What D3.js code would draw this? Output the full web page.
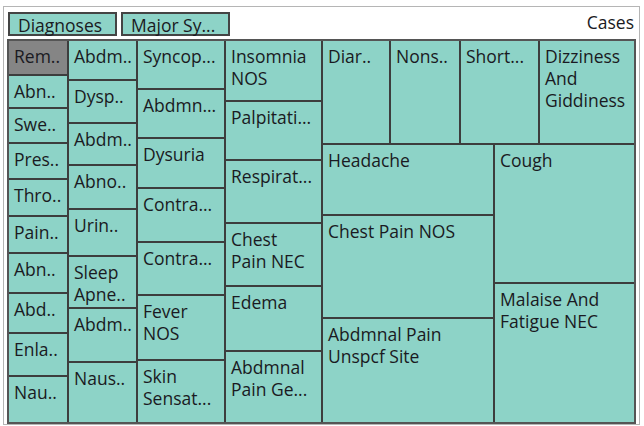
<!DOCTYPE html>
<html><head><meta charset="utf-8">
<script src="https://cdn.jsdelivr.net/npm/d3@7"></script>
<style>
body{margin:0;background:#fff;}
svg text{font-family:"Open Sans", Lato, sans-serif;font-size:17.5px;fill:#1a1a22;}
</style></head><body>
<svg id="chart" width="644" height="426"></svg>
<script>
// Display labels ("|" marks a line break as drawn in the reference)
const labels = [
  "Rem..", "Abn..", "Swe..", "Pres..", "Thro..", "Pain..", "Abn..", "Abd..", "Enla..", "Nau..",
  "Abdm..", "Dysp..", "Abdm..", "Abno..", "Urin..", "Sleep|Apne..", "Abdm..", "Naus..",
  "Syncop...", "Abdmn...", "Dysuria", "Contra...", "Contra...", "Fever|NOS", "Skin|Sensat...",
  "Insomnia|NOS", "Palpitati...", "Respirat...", "Chest|Pain NEC", "Edema", "Abdmnal|Pain Ge...",
  "Diar..", "Nons..", "Short...", "Dizziness|And|Giddiness",
  "Headache", "Chest Pain NOS", "Abdmnal Pain|Unspcf Site",
  "Cough", "Malaise And|Fatigue NEC"
];
// Cases per diagnosis
const cases = [
  212, 196, 212, 216, 220, 224, 236, 244, 256, 282,
  276, 295, 292, 304, 322, 363, 373, 419,
  434, 431, 440, 470, 469, 572, 554,
  589, 575, 608, 614, 631, 698,
  706, 726, 828, 997,
  1226, 1772, 1801,
  1964, 1970
];
const breadcrumbs = ["Diagnoses", "Major Sy..."];
const measureLabel = "Cases";
const highlighted = 0;

const svg = d3.select("#chart");
const W = 627, H = 383, X0 = 8, Y0 = 40;

// outer frame
svg.append("rect").attr("x", 3.5).attr("y", 6.5).attr("width", 636).attr("height", 418)
  .attr("fill", "none").attr("stroke", "#b5b5b5").attr("stroke-width", 1);

// breadcrumbs
const bc = svg.append("g").selectAll("g").data(breadcrumbs).join("g")
  .attr("transform", (d, i) => `translate(${9 + i * 113},13)`);
bc.append("rect").attr("width", 107).attr("height", 22)
  .attr("fill", "#8dd3c7").attr("stroke", "#444").attr("stroke-width", 2);
bc.append("text").attr("x", 9).attr("y", 18.5).text(d => d);

svg.append("text").attr("x", 634).attr("y", 29).attr("text-anchor", "end").text(measureLabel);

const root = d3.hierarchy({children: cases.map((v, i) => ({name: labels[i], value: v}))})
  .sum(d => d.value || 0);
d3.treemap().size([W, H]).tile(d3.treemapSquarify).round(true)(root);

const g = svg.append("g").attr("transform", `translate(${X0},${Y0})`);
const cell = g.selectAll("g").data(root.leaves()).join("g")
  .attr("transform", d => `translate(${d.x0},${d.y0})`);
cell.append("rect")
  .attr("width", d => d.x1 - d.x0).attr("height", d => d.y1 - d.y0)
  .attr("fill", (d, i) => i === highlighted ? "#858585" : "#8dd3c7")
  .attr("stroke", "#3d3d3d").attr("stroke-width", 2);
cell.append("text").attr("x", 6).attr("y", 23)
  .selectAll("tspan").data(d => d.data.name.split("|")).join("tspan")
  .attr("x", 6).attr("dy", (t, i) => i ? 22 : 0).text(t => t);

g.append("rect").attr("width", W).attr("height", H).attr("fill", "none")
  .attr("stroke", "#555").attr("stroke-width", 2);
</script>
</body></html>
